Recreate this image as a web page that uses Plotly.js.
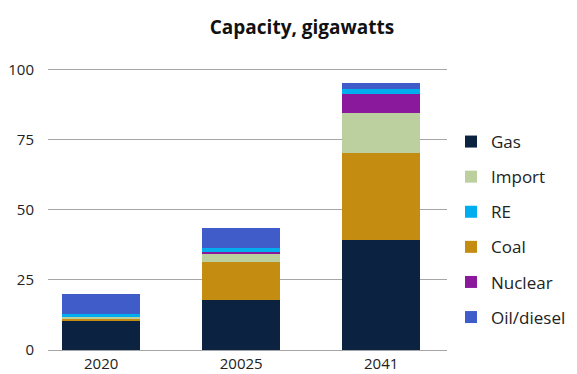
<!DOCTYPE html>
<html>
<head>
<meta charset="utf-8">
<script src="https://cdn.plot.ly/plotly-3.0.1.min.js"></script>
<style>html,body{margin:0;padding:0;background:#fff;}#chart{width:577px;height:374px;}</style>
</head>
<body>
<div id="chart"></div>
<script>
var years = ["2020", "20025", "2041"];
var gas = [10.4, 17.9, 39.4];
var coal = [0.8, 13.6, 30.7];
var importV = [0.6, 2.8, 14.3];
var nuclear = [0, 0.7, 6.8];
var re = [1.1, 1.4, 1.8];
var oil = [7.1, 7.2, 2.1];
var yTicks = [0, 25, 50, 75, 100];
var yTickText = ["0", "25", "50", "75", "100"];

var series = [
  {name: "Gas", y: gas, color: "#0b2341", rank: 1},
  {name: "Coal", y: coal, color: "#c48d12", rank: 4},
  {name: "Import", y: importV, color: "#bcd09f", rank: 2},
  {name: "Nuclear", y: nuclear, color: "#8a1a9b", rank: 5},
  {name: "RE", y: re, color: "#00adee", rank: 3},
  {name: "Oil/diesel", y: oil, color: "#3f5cc8", rank: 6}
];

var traces = series.map(function(s){
  return {
    type: "bar", x: years, y: s.y, name: s.name,
    marker: {color: s.color, line: {width: 0}},
    legendrank: s.rank, legendgroup: s.name,
    hoverinfo: "name+y"
  };
});

var font = "'Open Sans', 'Noto Sans', sans-serif";
var layout = {
  width: 577, height: 374,
  margin: {l: 48, r: 130, t: 64, b: 24, pad: 0},
  paper_bgcolor: "#fff", plot_bgcolor: "#fff",
  barmode: "stack",
  bargap: 0.443,
  showlegend: true,
  font: {family: font, color: "#222", size: 15},
  title: {text: "<b>Capacity, gigawatts</b>", font: {family: font, size: 19, color: "#111"},
          x: 302/577, xref: "container", xanchor: "center", y: 1 - 27/374, yref: "container", yanchor: "middle"},
  xaxis: {type: "category", range: [-0.38, 2.47], showgrid: false, zeroline: false, showline: false,
          ticks: "", ticklabelstandoff: 3, tickfont: {size: 15, color: "#222"}, fixedrange: true},
  yaxis: {range: [0, 102], tickvals: yTicks, ticktext: yTickText, showgrid: true, gridcolor: "#a6a6a6", gridwidth: 1,
          zeroline: true, zerolinecolor: "#a6a6a6", zerolinewidth: 1, showline: false, ticks: "",
          ticklabelstandoff: 13, tickfont: {size: 15, color: "#222"}, fixedrange: true},
  legend: {x: 451/577, xref: "container", xanchor: "left", y: 1 - 124/374, yref: "container", yanchor: "top",
           maxheight: 1,
           font: {size: 17, color: "#222"}, tracegroupgap: 10, traceorder: "grouped", bgcolor: "rgba(0,0,0,0)"}
};

Plotly.newPlot("chart", traces, layout, {displayModeBar: false, staticPlot: true});
</script>
</body>
</html>
